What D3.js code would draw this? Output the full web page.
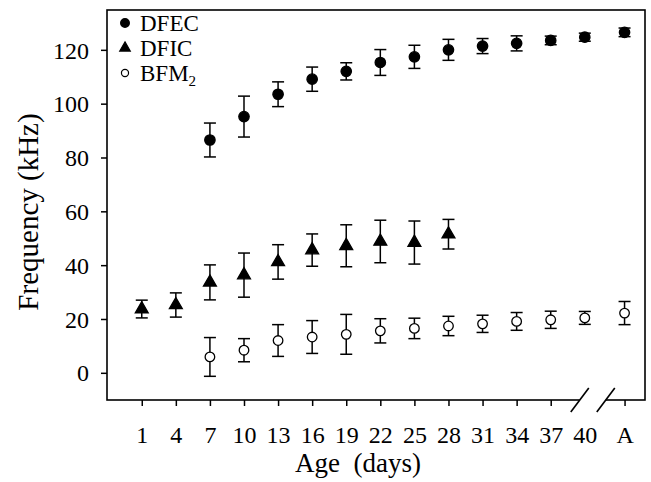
<!DOCTYPE html>
<html>
<head>
<meta charset="utf-8">
<script src="https://cdn.jsdelivr.net/npm/d3@7"></script>
<style>
  body { margin: 0; background: #fff; }
  svg text { font-family: "Liberation Serif", "Times New Roman", serif; fill: #000; }
</style>
</head>
<body>
<div id="chart"></div>
<script>
var w = 651;
var h = 482;

// x positions in "day" units; A is placed after the axis break
var xTickLabels = ["1", "4", "7", "10", "13", "16", "19", "22", "25", "28", "31", "34", "37", "40", "A"];
var xTickPos = [1, 4, 7, 10, 13, 16, 19, 22, 25, 28, 31, 34, 37, 40, 43.5];
var yTicks = [0, 20, 40, 60, 80, 100, 120];

var dfecX = [7, 10, 13, 16, 19, 22, 25, 28, 31, 34, 37, 40, 43.5];
var dfecY = [86.5, 95.2, 103.5, 109.1, 112.0, 115.3, 117.4, 120.0, 121.4, 122.4, 123.5, 124.7, 126.5];
var dfecErr = [6.3, 7.6, 4.6, 4.5, 3.2, 4.8, 4.3, 3.9, 2.8, 2.8, 1.6, 1.5, 1.6];

var dficX = [1, 4, 7, 10, 13, 16, 19, 22, 25, 28];
var dficY = [23.7, 25.2, 33.6, 36.3, 41.2, 45.6, 47.2, 48.8, 48.4, 51.5];
var dficErr = [3.3, 4.5, 6.5, 8.2, 6.4, 6.0, 7.8, 7.9, 8.0, 5.5];

var bfmX = [7, 10, 13, 16, 19, 22, 25, 28, 31, 34, 37, 40, 43.5];
var bfmY = [5.9, 8.4, 12.0, 13.3, 14.3, 15.6, 16.5, 17.4, 18.2, 19.1, 19.7, 20.4, 22.2];
var bfmErr = [7.2, 4.3, 5.9, 6.1, 7.4, 4.5, 3.8, 3.6, 3.2, 3.3, 3.2, 2.4, 4.3];

var legendNames = ["DFEC", "DFIC", "BFM"];

var pLeft = 107, pRight = 645, pTop = 10, pBottom = 400;

var xScale = d3.scaleLinear()
               .domain([-2.06, 45.3])
               .range([pLeft, pRight]);

var yScale = d3.scaleLinear()
               .domain([-10.1, 134.8])
               .range([pBottom, pTop]);

var svg = d3.select("#chart")
            .append("svg")
            .attr("width", w)
            .attr("height", h);

// frame
svg.append("rect")
   .attr("x", pLeft)
   .attr("y", pTop)
   .attr("width", pRight - pLeft)
   .attr("height", pBottom - pTop)
   .attr("fill", "none")
   .attr("stroke", "#000")
   .attr("stroke-width", 1.6);

var yAxis = d3.axisLeft(yScale)
              .tickValues(yTicks)
              .tickSize(6)
              .tickPadding(12)
              .tickSizeOuter(0);

var gy = svg.append("g")
   .attr("transform", "translate(" + pLeft + ",0)")
   .call(yAxis);
gy.select(".domain").remove();
gy.selectAll("line").attr("stroke-width", 1.5);
gy.selectAll("text").style("font-size", "24px").attr("dy", "0.34em");

var xAxis = d3.axisBottom(xScale)
              .tickValues(xTickPos)
              .tickFormat(function(d, i) { return xTickLabels[i]; })
              .tickSize(6)
              .tickPadding(20)
              .tickSizeOuter(0);

var gx = svg.append("g")
   .attr("transform", "translate(0," + pBottom + ")")
   .call(xAxis);
gx.select(".domain").remove();
gx.selectAll("line").attr("stroke-width", 1.5);
gx.selectAll("text").style("font-size", "24px");

// axis break between 40 and A
var bx1 = xScale(40) - 5, bx2 = xScale(40) + 21;
svg.append("rect")
   .attr("x", bx1).attr("y", pBottom - 4)
   .attr("width", bx2 - bx1).attr("height", 12)
   .attr("fill", "#fff");
[bx1, bx2].forEach(function(bx) {
  svg.append("line")
     .attr("x1", bx - 9).attr("y1", pBottom + 12)
     .attr("x2", bx + 9).attr("y2", pBottom - 12)
     .attr("stroke", "#000")
     .attr("stroke-width", 1.6);
});

// axis titles
svg.append("text")
   .attr("x", 358)
   .attr("y", 472)
   .attr("text-anchor", "middle")
   .style("font-size", "27px")
   .style("white-space", "pre")
   .text("Age  (days)");

svg.append("text")
   .attr("transform", "translate(38,212) rotate(-90)")
   .attr("text-anchor", "middle")
   .style("font-size", "29px")
   .text("Frequency (kHz)");

function drawSeries(xs, ys, errs, shape, fill) {
  var g = svg.append("g");
  var data = xs.map(function(x, i) { return {x: x, y: ys[i], e: errs[i]}; });
  var bars = g.selectAll("g.bar").data(data).enter().append("g")
              .attr("stroke", "#000").attr("stroke-width", 1.5);
  bars.append("line")
      .attr("x1", function(d) { return xScale(d.x); })
      .attr("x2", function(d) { return xScale(d.x); })
      .attr("y1", function(d) { return yScale(d.y - d.e); })
      .attr("y2", function(d) { return yScale(d.y + d.e); });
  [-1, 1].forEach(function(s) {
    bars.append("line")
        .attr("x1", function(d) { return xScale(d.x) - 6; })
        .attr("x2", function(d) { return xScale(d.x) + 6; })
        .attr("y1", function(d) { return yScale(d.y + s * d.e); })
        .attr("y2", function(d) { return yScale(d.y + s * d.e); });
  });
  g.selectAll("path.pt").data(data).enter().append("path")
   .attr("d", shape)
   .attr("transform", function(d) { return "translate(" + xScale(d.x) + "," + yScale(d.y) + ")"; })
   .attr("fill", fill)
   .attr("stroke", "#000")
   .attr("stroke-width", 1.3);
}

var circleBig = d3.symbol().type(d3.symbolCircle).size(85)();
var circleOpen = d3.symbol().type(d3.symbolCircle).size(72)();
var triBig = d3.symbol().type(d3.symbolTriangle).size(72)();

drawSeries(dfecX, dfecY, dfecErr, circleBig, "#000");
drawSeries(dficX, dficY, dficErr, triBig, "#000");
drawSeries(bfmX, bfmY, bfmErr, circleOpen, "#fff");

// legend
var legendShapes = [
  d3.symbol().type(d3.symbolCircle).size(60)(),
  d3.symbol().type(d3.symbolTriangle).size(48)(),
  d3.symbol().type(d3.symbolCircle).size(40)()
];
var legendFill = ["#000", "#000", "#fff"];
var lg = svg.append("g");
legendNames.forEach(function(name, i) {
  var ly = 23 + i * 25;
  lg.append("path")
    .attr("d", legendShapes[i])
    .attr("transform", "translate(125," + ly + ")")
    .attr("fill", legendFill[i])
    .attr("stroke", "#000")
    .attr("stroke-width", 1.2);
  var t = lg.append("text")
    .attr("x", 140)
    .attr("y", ly)
    .attr("dy", "0.35em")
    .style("font-size", "23px")
    .text(name);
  if (i === 2) {
    t.append("tspan").attr("dy", "5").style("font-size", "15px").text("2");
  }
});
</script>
</body>
</html>
